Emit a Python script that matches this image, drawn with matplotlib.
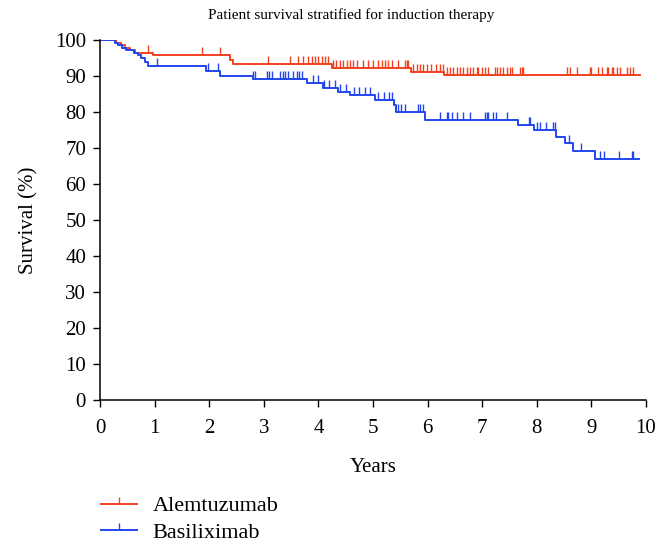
import numpy as np
import matplotlib
matplotlib.use("Agg")
import matplotlib.pyplot as plt
import matplotlib.lines as mlines

plt.rcParams["font.family"] = ["Liberation Serif", "DejaVu Serif"]

# step data: time (years) of each drop and survival (%) after it
alem_t = [0, 0.30, 0.38, 0.45, 0.55, 0.65, 0.97, 2.39, 2.44, 4.25, 5.70, 6.30, 9.89]
alem_s = [100, 99.3, 98.6, 97.9, 97.2, 96.5, 95.8, 94.5, 93.2, 92.2, 91.2, 90.4, 90.4]
alem_cens = [0.88, 1.86, 2.2, 3.08, 3.48, 3.63, 3.71, 3.81, 3.88, 3.94, 4.0, 4.06, 4.12,
             4.18, 4.27, 4.33, 4.4, 4.45, 4.52, 4.58, 4.64, 4.7, 4.82, 4.91, 5.0, 5.09,
             5.16, 5.22, 5.27, 5.34, 5.46, 5.59, 5.62, 5.64, 5.73, 5.8, 5.86, 5.92, 5.98,
             6.07, 6.16, 6.23, 6.28, 6.35, 6.41, 6.47, 6.53, 6.59, 6.65, 6.72, 6.78, 6.84,
             6.9, 6.93, 6.99, 7.05, 7.1, 7.23, 7.27, 7.33, 7.38, 7.45, 7.51, 7.54, 7.69,
             7.72, 7.75, 8.55, 8.61, 8.73, 8.97, 9.0, 9.12, 9.19, 9.28, 9.31, 9.37, 9.4,
             9.46, 9.52, 9.65, 9.71, 9.76]

basi_t = [0, 0.27, 0.33, 0.40, 0.47, 0.62, 0.70, 0.76, 0.82, 0.88, 1.95, 2.2, 2.8, 3.8,
          4.08, 4.36, 4.58, 5.04, 5.38, 5.43, 5.95, 7.66, 7.95, 8.36, 8.52, 8.66, 9.07, 9.87]
basi_s = [100, 99.3, 98.6, 97.9, 97.2, 96.5, 95.8, 95.1, 94.0, 92.8, 91.5, 90.0, 89.2, 88.0,
          86.6, 85.6, 84.7, 83.3, 82.0, 80.0, 77.9, 76.4, 75.0, 73.1, 71.3, 69.3, 67.0, 67.0]
basi_cens = [1.05, 1.97, 2.17, 2.8, 2.84, 3.06, 3.1, 3.15, 3.3, 3.35, 3.39, 3.45, 3.54, 3.6,
             3.65, 3.7, 3.9, 4.0, 4.1, 4.2, 4.3, 4.4, 4.5, 4.65, 4.75, 4.85, 4.95, 5.1,
             5.2, 5.3, 5.34, 5.46, 5.52, 5.59, 5.82, 5.86, 5.92, 6.22, 6.35, 6.38, 6.44,
             6.53, 6.64, 6.78, 7.05, 7.08, 7.11, 7.2, 7.26, 7.45, 7.85, 7.88, 8.0, 8.06,
             8.16, 8.3, 8.34, 8.59, 8.81, 9.16, 9.23, 9.51, 9.74, 9.76]

red = "#f2401f"
blue = "#2146ee"

fig = plt.figure(figsize=(6.64, 5.47), dpi=100)
ax = fig.add_axes([0.1506, 0.2687, 0.8223, 0.6582])


def km(t, s, cens, c):
    t = np.array(t)
    s = np.array(s)
    ax.step(t, s, where="post", color=c, lw=1.4)
    cens = np.array(cens)
    lev = s[np.searchsorted(t, cens, side="right") - 1]
    ax.plot(cens, lev, ls="none", marker=2, ms=5.5, mew=1.0, color=c)


km(alem_t, alem_s, alem_cens, red)
km(basi_t, basi_s, basi_cens, blue)

ax.set_xlim(0, 10)
ax.set_ylim(0, 100)
ax.set_xticks(range(0, 11))
ax.set_yticks(range(0, 101, 10))
ax.spines["top"].set_visible(False)
ax.spines["right"].set_visible(False)
ax.tick_params(direction="out", length=5, width=1, labelsize=15, pad=5)
ax.tick_params(axis="x", pad=9)
ax.set_xlabel("Years", fontsize=15, labelpad=14)
ax.set_ylabel("Survival (%)", fontsize=15, labelpad=12)
for sp in ax.spines.values():
    sp.set_linewidth(1.1)

fig.text(351 / 664, 1 - 15 / 547, "Patient survival stratified for induction therapy",
         ha="center", va="center", fontsize=11)

# legend handles: line with a small up-tick in the middle
lh1 = mlines.Line2D([], [], color=red, lw=1.4, marker=2, ms=5, mew=1.0)
lh2 = mlines.Line2D([], [], color=blue, lw=1.4, marker=2, ms=5, mew=1.0)
fig.legend([lh1, lh2], ["Alemtuzumab", "Basiliximab"], loc="upper left",
           bbox_to_anchor=(0.139, 1 - 487 / 547), frameon=False, fontsize=16,
           handlelength=1.6, labelspacing=0.25, handletextpad=0.7, numpoints=1,
           borderaxespad=0)

fig.savefig("out.png", dpi=100, facecolor="w")
